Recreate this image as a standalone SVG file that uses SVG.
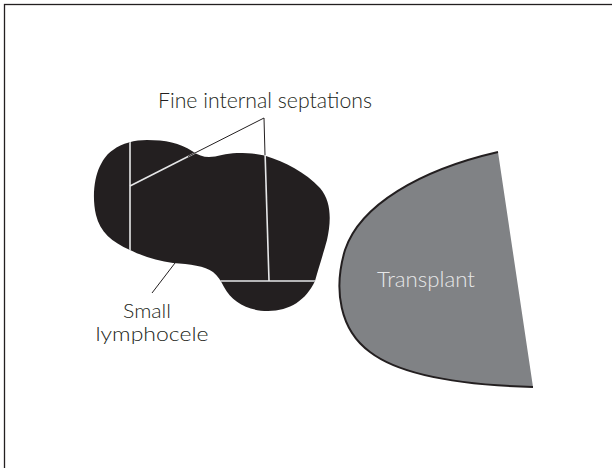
<svg xmlns="http://www.w3.org/2000/svg" width="612" height="468" viewBox="0 0 612 468">
  <defs>
    <style>
      .label { font-family: "Lato", "Liberation Sans", "DejaVu Sans", sans-serif; font-weight: 300; font-size: 21px; fill: #231f20; }
      .label.small { font-size: 19.5px; }
      .leader { stroke: #231f20; stroke-width: 1; fill: none; }
      .septum { stroke: #e6e7e8; stroke-width: 1.6; fill: none; }
    </style>
    <path id="blobShape" d="M113,150 C122,143 135,140 147,140 C165,140 180,143 192,151 C198,155 203,157 209,157 C217,157 226,153 237,153 C250,153 258,154 266,156 C285,162 305,172 320,188 C332,202 331,222 327,240 C322,258 318,270 315,281 C306,300 290,311 268,311 C248,311 232,302 224,287 C221,281 218,276 213,272 C205,266 190,264 173,263 C158,261 142,256 130,250 C112,242 100,232 96,215 C92,198 94,178 100,166 C104,158 108,153 113,150 Z"/>
    <clipPath id="blobClip">
      <use href="#blobShape"/>
    </clipPath>
  </defs>

  <rect x="0" y="0" width="612" height="468" fill="#ffffff"/>
  <!-- frame: only the top and left edges fall inside the canvas -->
  <rect x="4.5" y="4.5" width="700" height="600" fill="none" stroke="#231f20" stroke-width="1.3"/>

  <g id="transplant">
    <path d="M498,152 C420,170 360,205 345,250 C333,290 340,330 370,352 C400,375 460,385 533,387 L498,152 Z" fill="#808285"/>
    <path d="M498,152 C420,170 360,205 345,250 C333,290 340,330 370,352 C400,375 460,385 533,387" fill="none" stroke="#231f20" stroke-width="2"/>
    <text x="426" y="287" text-anchor="middle" class="label" style="fill:#e6e7e8" textLength="98" lengthAdjust="spacingAndGlyphs">Transplant</text>
  </g>

  <g id="lymphocele">
    <use href="#blobShape" fill="#231f20"/>
    <g clip-path="url(#blobClip)">
      <line class="septum" x1="130" y1="130" x2="130" y2="262"/>
      <line class="septum" x1="200" y1="281" x2="340" y2="281"/>
      <line class="septum" x1="264" y1="118" x2="269" y2="281"/>
      <line class="septum" x1="264" y1="118" x2="130" y2="186"/>
    </g>
  </g>

  <g id="connectors">
    <g id="septation-leaders">
      <line class="leader" x1="264" y1="118" x2="265" y2="155"/>
      <line class="leader" x1="264" y1="118" x2="188" y2="156.5"/>
    </g>
    <line id="lymphocele-leader" class="leader" x1="175" y1="263" x2="152" y2="293"/>
  </g>

  <g id="septation-label">
    <text x="265" y="108" text-anchor="middle" class="label" textLength="214" lengthAdjust="spacingAndGlyphs">Fine internal septations</text>
  </g>

  <g id="lymphocele-label">
    <text x="147" y="318" text-anchor="middle" class="label small" textLength="48" lengthAdjust="spacingAndGlyphs">Small</text>
    <text x="152" y="341" text-anchor="middle" class="label small" textLength="113" lengthAdjust="spacingAndGlyphs">lymphocele</text>
  </g>
</svg>
